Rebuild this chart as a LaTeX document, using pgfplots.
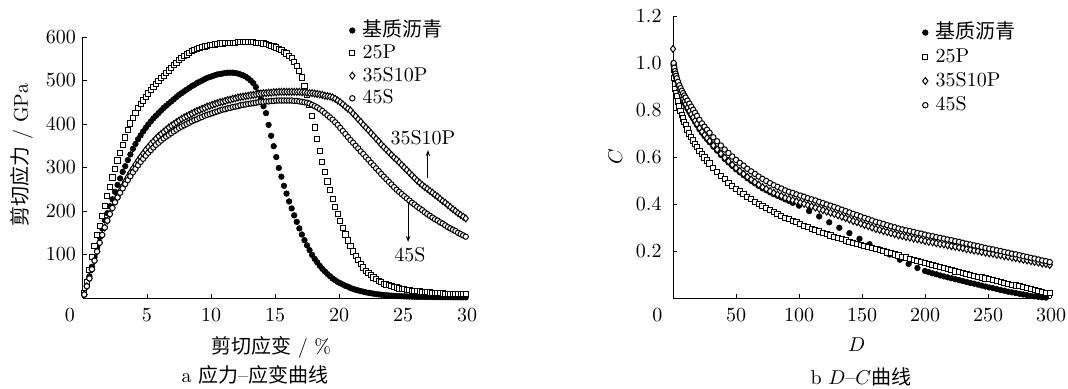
\documentclass[border=0pt]{standalone}
\usepackage{fontspec}
\usepackage{pgfplots}
\usepackage{pgfplotstable}
\pgfplotsset{compat=1.18}
\usetikzlibrary{arrows.meta}
\newfontfamily\cjk{Noto Sans CJK SC}

% strain (%), base, 25P, 35S10P, 45S  (shear stress, GPa)
\pgfplotstableread{
x B P S T
0.1 8 12 8 8
0.3 30 36 27 27
0.5 50 64 45 45
0.7 72 94 66 66
0.9 94 120 86 86
1.1 116 144 107 107
1.3 140 166 127 127
1.5 160 189 145 145
1.7 179 212 162 162
1.9 195 234 178 178
2.1 211 256 193 193
2.3 227 277 208 207
2.5 244 297 222 220
2.7 260 316 234 231
2.9 275 334 246 242
3.1 290 352 257 252
3.3 303 369 268 262
3.5 317 386 278 271
3.7 330 401 288 280
3.9 343 414 298 289
4.1 354 426 307 297
4.3 365 437 316 305
4.5 374 446 324 313
4.7 383 454 332 320
4.9 391 462 340 327
5.1 399 470 347 334
5.3 406 478 354 340
5.5 413 485 360 346
5.7 419 492 366 352
5.9 425 499 372 357
6.1 431 505 377 362
6.3 437 511 382 367
6.5 442 517 387 371
6.7 447 523 392 375
6.9 452 529 396 379
7.1 457 535 400 383
7.3 462 541 404 387
7.5 467 547 408 391
7.7 471 552 412 394
7.9 475 556 415 397
8.1 479 560 418 400
8.3 483 564 421 403
8.5 487 567 424 406
8.7 490 570 427 409
8.9 494 573 430 411
9.1 497 575 432 414
9.3 500 577 435 416
9.5 503 578 437 419
9.7 506 580 440 421
9.9 508 581 442 423
10.1 510 582 444 425
10.3 512 583 446 427
10.5 514 584 448 429
10.7 515 585 450 431
10.9 516 585 451 433
11.1 517 586 453 434
11.3 518 586 455 436
11.5 518 587 456 437
11.7 518 587 458 439
11.9 517 587 459 440
12.1 516 588 461 441
12.3 514 588 462 443
12.5 512 588 463 444
12.7 509 588 464 445
12.9 505 588 465 446
13.1 500 588 466 447
13.3 494 588 467 448
13.5 485 587 468 449
13.7 472 587 469 450
13.9 457 586 470 451
14.1 441 585 471 451
14.3 425 584 471 452
14.5 398 582 472 452
14.7 373 580 472 453
14.9 349 578 473 453
15.1 324 576 473 454
15.3 299 573 474 454
15.5 279 570 474 454
15.7 258 566 474 454
15.9 240 562 474 454
16.1 222 557 474 454
16.3 206 551 474 454
16.5 190 543 474 453
16.7 175 533 474 453
16.9 160 522 474 452
17.1 146 507 473 451
17.3 133 488 473 450
17.5 121 466 472 449
17.7 110 443 471 447
17.9 99 418 471 444
18.1 90 392 470 441
18.3 82 365 469 438
18.5 74 338 468 434
18.7 67 313 467 430
18.9 61 290 465 425
19.1 55 268 464 420
19.3 50 248 463 415
19.5 45 228 461 410
19.7 41 210 458 404
19.9 37 193 454 398
20.1 34 177 450 391
20.3 31 161 445 384
20.5 28 146 440 377
20.7 26 132 435 370
20.9 23 119 431 363
21.1 21 107 424 357
21.3 19 96 418 350
21.5 17.5 87 411 344
21.7 16 78 405 337
21.9 14.5 70 398 331
22.1 13 63 392 324
22.3 12 57 386 318
22.5 11 52 379 311
22.7 10 47 373 305
22.9 9 43 366 298
23.1 8.3 39 360 292
23.3 7.6 36 353 285
23.5 7 33 347 279
23.7 6.4 31 341 273
23.9 5.9 29 335 267
24.1 5.4 27 329 261
24.3 5 25 323 255
24.5 4.6 24 318 249
24.7 4.3 22 312 244
24.9 4 21 306 239
25.1 3.8 20 300 234
25.3 3.6 19 294 229
25.5 3.4 18 288 224
25.7 3.2 17 282 219
25.9 3.0 16 276 215
26.1 2.9 15.5 270 210
26.3 2.8 15 265 206
26.5 2.7 14 260 202
26.7 2.6 13.5 255 197
26.9 2.5 13 251 193
27.1 2.4 12.5 246 189
27.3 2.3 12 242 185
27.5 2.2 11.5 237 181
27.7 2.1 11 233 178
27.9 2.0 11 228 174
28.1 2.0 10.5 223 171
28.3 1.9 10 219 167
28.5 1.9 10 214 163
28.7 1.8 10 209 160
28.9 1.8 9.5 204 157
29.1 1.7 9.5 200 154
29.3 1.7 9 195 150
29.5 1.6 9 191 147
29.7 1.6 9 187 144
29.9 1.5 9 183 141
}\ss

% D, C for 45S (U), 35S10P (M), 25P (L)
\pgfplotstableread{
D U M L
0 nan 1.06 nan
0.5 1.000 0.995 0.970
1 0.980 0.975 0.935
1.5 0.965 0.959 0.910
2 0.955 0.947 0.890
2.5 0.945 0.935 0.874
3 0.935 0.923 0.860
4 0.920 0.905 0.836
5 0.905 0.887 0.815
6 0.893 0.873 0.797
7 0.882 0.860 0.780
8 0.872 0.848 0.764
9 0.862 0.836 0.749
10 0.853 0.825 0.735
11.5 0.840 0.810 0.717
13 0.827 0.796 0.700
14.5 0.814 0.782 0.685
16 0.801 0.768 0.670
17.5 0.788 0.754 0.656
19 0.775 0.741 0.643
21 0.758 0.723 0.627
23 0.743 0.708 0.612
25 0.729 0.694 0.598
27 0.716 0.681 0.585
29 0.703 0.668 0.572
32 0.684 0.649 0.553
35 0.667 0.632 0.536
38 0.649 0.614 0.520
41 0.632 0.597 0.505
44 0.617 0.582 0.491
47 0.602 0.567 0.478
50 0.588 0.553 0.465
53 0.575 0.540 0.453
56 0.563 0.528 0.441
59 0.550 0.515 0.430
62 0.539 0.504 0.420
65 0.528 0.493 0.410
68 0.517 0.482 0.401
71 0.507 0.472 0.392
74 0.498 0.464 0.383
77 0.489 0.455 0.375
80 0.480 0.447 0.366
83 0.473 0.440 0.358
86 0.466 0.434 0.350
89 0.458 0.426 0.342
92 0.452 0.421 0.335
95 0.447 0.416 0.328
98 0.441 0.411 0.322
101 0.436 0.406 0.315
104 0.431 0.401 0.308
107 0.425 0.395 0.302
110 0.420 0.390 0.295
113 0.415 0.385 0.289
116 0.409 0.379 0.283
119 0.404 0.374 0.277
122 0.398 0.368 0.271
125 0.393 0.363 0.266
128 0.388 0.358 0.260
131 0.382 0.352 0.255
134 0.376 0.346 0.250
137 0.370 0.340 0.245
140 0.364 0.334 0.240
143 0.358 0.328 0.235
146 0.353 0.323 0.230
149 0.347 0.317 0.226
152 0.341 0.311 0.221
155 0.336 0.306 0.217
158 0.330 0.300 0.212
161 0.324 0.294 0.208
164 0.320 0.290 0.203
167 0.315 0.285 0.199
170 0.310 0.281 0.194
173 0.305 0.276 0.190
176 0.301 0.272 0.185
179 0.296 0.267 0.181
182 0.292 0.264 0.176
185 0.288 0.260 0.172
188 0.285 0.257 0.167
191 0.281 0.253 0.163
194 0.277 0.250 0.158
197 0.274 0.247 0.154
200 0.270 0.243 0.149
203 0.266 0.239 0.145
206 0.263 0.237 0.140
209 0.259 0.233 0.136
212 0.256 0.230 0.131
215 0.253 0.228 0.127
218 0.249 0.224 0.122
221 0.246 0.221 0.118
224 0.242 0.218 0.113
227 0.239 0.215 0.109
230 0.235 0.212 0.105
233 0.231 0.208 0.101
236 0.228 0.206 0.098
239 0.224 0.202 0.094
242 0.221 0.200 0.091
245 0.217 0.196 0.087
248 0.213 0.193 0.083
251 0.210 0.190 0.080
254 0.207 0.188 0.076
257 0.203 0.184 0.072
260 0.200 0.182 0.068
263 0.196 0.178 0.064
266 0.193 0.176 0.061
269 0.189 0.172 0.057
272 0.186 0.170 0.053
275 0.182 0.166 0.050
278 0.178 0.163 0.046
281 0.175 0.160 0.042
284 0.171 0.157 0.038
287 0.168 0.154 0.035
290 0.164 0.151 0.031
293 0.160 0.147 0.027
296 0.157 0.145 0.023
299 0.153 0.141 0.020
}\dc

% D, C for base asphalt
\pgfplotstableread{
D C
0.5 0.990
1 0.970
1.5 0.955
2 0.942
3 0.918
4 0.900
5 0.882
6 0.868
7 0.855
8 0.843
9 0.831
10 0.820
11.5 0.805
13 0.791
14.5 0.777
16 0.763
17.5 0.749
19 0.736
21 0.718
23 0.703
25 0.689
27 0.676
29 0.663
32 0.644
35 0.627
38 0.609
41 0.592
44 0.577
47 0.562
50 0.548
53 0.535
56 0.523
59 0.510
62 0.499
65 0.488
68 0.477
71 0.467
74 0.459
77 0.450
80 0.442
83 0.435
86 0.428
89 0.420
92 0.413
95 0.405
100 0.393
108 0.370
116 0.347
124 0.322
132 0.299
140 0.276
148 0.252
156 0.229
164 0.207
172 0.185
180 0.163
187 0.145
194 0.128
200 0.115
203 0.110
206 0.105
209 0.101
212 0.096
215 0.092
218 0.088
221 0.084
224 0.080
227 0.076
230 0.072
233 0.068
236 0.064
239 0.061
242 0.057
245 0.053
248 0.049
251 0.045
254 0.042
257 0.038
260 0.034
263 0.031
266 0.027
269 0.024
272 0.021
275 0.018
278 0.015
281 0.012
284 0.009
287 0.007
290 0.005
293 0.003
296 0.002
}\dcb

\pgfplotsset{
 myaxis/.style={
  scale only axis, axis lines=left, axis line style={-, line width=0.5pt},
  tick align=inside, major tick length=2pt, tick style={black, line width=0.5pt},
  clip=false,
  legend cell align=left,
  legend image code/.code={\draw[mark repeat=2,mark phase=2,##1] plot coordinates {(0pt,0pt) (3pt,0pt) (6pt,0pt)};},
  legend style={draw=none, fill=none, inner sep=0pt, anchor=north west,
    nodes={inner sep=0.8pt, text height=7.5pt, text depth=2pt}, row sep=0.2pt,
    /tikz/every odd column/.append style={column sep=3pt}},
  xticklabel style={yshift=-2pt},
 },
 sbase/.style={only marks, mark=*, mark size=1.4pt, black, mark options={fill=black, line width=0.3pt}},
 s25/.style={only marks, mark=square*, mark size=1.3pt, black, mark options={fill=white, line width=0.5pt}},
 s35/.style={only marks, mark=diamond*, mark size=1.75pt, black, mark options={fill=white, line width=0.5pt}},
 s45/.style={only marks, mark=*, mark size=1.35pt, black, mark options={fill=white, line width=0.5pt}},
}

\begin{document}
\fontsize{10}{12}\selectfont
\begin{tikzpicture}
\path[use as bounding box] (-41.5pt,-45pt) rectangle (492.5pt,149pt);
\begin{axis}[myaxis,
  at={(0pt,0pt)}, anchor=south west, width=192pt, height=130.5pt,
  xmin=0, xmax=30, ymin=0, ymax=600,
  xtick={5,10,15,20,25,30}, ytick={100,200,300,400,500,600},
  xlabel={{\cjk 剪切应变} / \%},
  xlabel style={at={(axis description cs:0.49,0)}, anchor=center, yshift=-24.5pt},
  ylabel={{\cjk 剪切应力} / GPa},
  ylabel style={at={(axis description cs:-0.159,0.548)}, anchor=center},
  legend style={at={(axis description cs:0.693,1.069)}},
]
\addplot[sbase] table[x=x,y=B] {\ss};
\addplot[s25] table[x=x,y=P] {\ss};
\addplot[s35] table[x=x,y=S] {\ss};
\addplot[s45] table[x=x,y=T] {\ss};
\legend{{\cjk 基质沥青},25P,35S10P,45S}
\node at (axis cs:0,0) [xshift=-6.5pt, yshift=-8.5pt] {0};
\node at (axis cs:26.56,367.8) {35S10P};
\draw[line width=0.5pt, -{Stealth[length=3pt,width=2.2pt]}] (axis cs:26.95,276) -- (axis cs:26.95,340);
\node at (axis cs:25.55,98.9) {45S};
\draw[line width=0.5pt, -{Stealth[length=3pt,width=2.2pt]}] (axis cs:25.4,221) -- (axis cs:25.4,129);
\node at (axis description cs:0.448,0) [yshift=-38.5pt] {a {\cjk 应力}--{\cjk 应变曲线}};
\end{axis}

\begin{axis}[myaxis,
  at={(295pt,0pt)}, anchor=south west, width=189pt, height=141pt,
  xmin=0, xmax=300, ymin=0, ymax=1.2,
  xtick={50,100,150,200,250,300}, ytick={0.2,0.4,0.6,0.8,1.0,1.2},
  yticklabel style={/pgf/number format/.cd, fixed, fixed zerofill, precision=1, /tikz/.cd, xshift=-2.2pt},
  xlabel={$D$},
  xlabel style={at={(axis description cs:0.486,0)}, anchor=center, yshift=-23.5pt},
  ylabel={$C$},
  ylabel style={at={(axis description cs:-0.153,0.5)}, anchor=center},
  legend style={at={(axis description cs:0.659,0.982)}, row sep=1pt},
]
\addplot[sbase] table[x=D,y=C] {\dcb};
\addplot[s25] table[x=D,y=L] {\dc};
\addplot[s35] table[x=D,y=M] {\dc};
\addplot[s45] table[x=D,y=U] {\dc};
\legend{{\cjk 基质沥青},25P,35S10P,45S}
\node at (axis cs:0,0) [xshift=-7.8pt, yshift=-8.5pt] {0};
\node at (axis description cs:0.497,0) [yshift=-39.5pt] {b $D$--$C${\cjk 曲线}};
\end{axis}
\end{tikzpicture}
\end{document}
